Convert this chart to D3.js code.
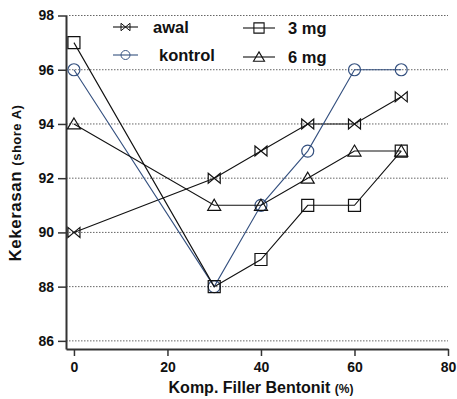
<!DOCTYPE html>
<html>
<head>
<meta charset="utf-8">
<script src="https://cdn.jsdelivr.net/npm/d3@7"></script>
<style>
  html, body { margin: 0; padding: 0; background: #fff; }
  svg text { font-family: "Liberation Sans", Arial, sans-serif; font-weight: bold; }
</style>
</head>
<body>
<svg id="chart" width="457" height="399"></svg>
<script>
// Filler composition (%) on the x axis
const filler = [0, 30, 40, 50, 60, 70];

// Hardness (shore A) for each series
const awal    = [90, 92, 93, 94, 94, 95];
const kontrol = [96, 88, 91, 93, 96, 96];
const mg3     = [97, 88, 89, 91, 91, 93];
const mg6     = [94, 91, 91, 92, 93, 93];

const xTicks = [0, 20, 40, 60, 80];
const yTicks = [86, 88, 90, 92, 94, 96, 98];

const seriesNames = ["awal", "kontrol", "3 mg", "6 mg"];

const svg = d3.select("#chart");

const x = d3.scaleLinear().domain([-1.7, 80]).range([66, 448]);
const y = d3.scaleLinear().domain([85.7, 98]).range([349, 15.5]);

// dotted horizontal gridlines
svg.append("g")
  .selectAll("line")
  .data(yTicks)
  .join("line")
  .attr("x1", 66).attr("x2", 448)
  .attr("y1", d => y(d)).attr("y2", d => y(d))
  .attr("stroke", "#666")
  .attr("stroke-width", 1)
  .attr("stroke-dasharray", "1.5,1.5");

// axes
const xAxis = svg.append("g")
  .attr("transform", `translate(0,${y(85.7)})`)
  .call(d3.axisBottom(x).tickValues(xTicks).tickSize(7).tickSizeOuter(0).tickPadding(6));
const yAxis = svg.append("g")
  .attr("transform", `translate(${x(-1.7)},0)`)
  .call(d3.axisLeft(y).tickValues(yTicks).tickSize(8).tickSizeOuter(0).tickPadding(4));

[xAxis, yAxis].forEach(g => {
  g.select(".domain").attr("stroke", "#333").attr("stroke-width", 2);
  g.selectAll(".tick line").attr("stroke", "#333").attr("stroke-width", 1.5);
  g.selectAll(".tick text").attr("fill", "#111").style("font-size", "14px");
});

// axis titles
const xt = svg.append("text")
  .attr("x", 261).attr("y", 393)
  .attr("text-anchor", "middle")
  .attr("fill", "#111")
  .style("font-size", "16px");
xt.append("tspan").text("Komp. Filler Bentonit ");
xt.append("tspan").style("font-size", "12px").text("(%)");

const yt = svg.append("text")
  .attr("transform", "translate(21,183) rotate(-90)")
  .attr("text-anchor", "middle")
  .attr("fill", "#111")
  .style("letter-spacing", "0.5px")
  .style("font-size", "17px");
yt.append("tspan").text("Kekerasan ");
yt.append("tspan").style("font-size", "13px").text("(shore A)");

// marker shapes
const bowtie = "M-6,-5 L6,5 L6,-5 L-6,5 Z";
const square = "M-6,-6 H6 V6 H-6 Z";
const triangle = "M0,-6 L6.5,5 L-6.5,5 Z";
const circle = d3.symbol(d3.symbolCircle, Math.PI * 36)();

const series = [
  { name: seriesNames[0], values: awal,    color: "#111",    marker: bowtie },
  { name: seriesNames[1], values: kontrol, color: "#34507f", marker: circle },
  { name: seriesNames[2], values: mg3,     color: "#111",    marker: square },
  { name: seriesNames[3], values: mg6,     color: "#111",    marker: triangle }
];

const line = d3.line().x((d, i) => x(filler[i])).y(d => y(d));

const plot = svg.append("g");
series.forEach(s => {
  plot.append("path")
    .datum(s.values)
    .attr("d", line)
    .attr("fill", "none")
    .attr("stroke", s.color)
    .attr("stroke-width", 1.1);
  plot.selectAll(null)
    .data(s.values)
    .join("path")
    .attr("d", s.marker)
    .attr("transform", (d, i) => `translate(${x(filler[i])},${y(d)})`)
    .attr("fill", "none")
    .attr("stroke", s.color)
    .attr("stroke-width", 1.2);
});

// legend
const legendPos = [
  { lx: 113, ly: 27, tx: 153 },
  { lx: 113, ly: 55, tx: 159 },
  { lx: 243, ly: 28, tx: 288 },
  { lx: 243, ly: 57, tx: 288 }
];
series.forEach((s, i) => {
  const p = legendPos[i];
  const len = i < 2 ? 25 : 32;
  const g = svg.append("g");
  g.append("line")
    .attr("x1", p.lx).attr("x2", p.lx + len)
    .attr("y1", p.ly).attr("y2", p.ly)
    .attr("stroke", s.color).attr("stroke-width", 1.1);
  g.append("path")
    .attr("d", s.marker)
    .attr("transform", `translate(${p.lx + len / 2},${p.ly}) scale(${i < 2 ? 0.75 : 0.85})`)
    .attr("fill", "none").attr("stroke", s.color).attr("stroke-width", 1.3);
  g.append("text")
    .attr("x", p.tx).attr("y", p.ly + 6)
    .attr("fill", "#111")
    .style("font-size", "16.5px")
    .text(s.name);
});
</script>
</body>
</html>
